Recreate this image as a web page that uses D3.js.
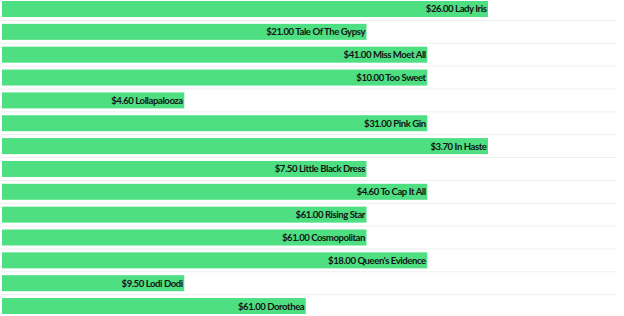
<!DOCTYPE html>
<html>
<head>
<meta charset="utf-8">
<script src="https://cdn.jsdelivr.net/npm/d3@7"></script>
<style>
  html, body { margin: 0; padding: 0; background: #ffffff; }
  svg { display: block; }
</style>
</head>
<body>
<div id="chart"></div>
<script>
const names = ["Lady Iris", "Tale Of The Gypsy", "Miss Moet All", "Too Sweet", "Lollapalooza",
  "Pink Gin", "In Haste", "Little Black Dress", "To Cap It All", "Rising Star",
  "Cosmopolitan", "Queen's Evidence", "Lodi Dodi", "Dorothea"];
const prices = [26.00, 21.00, 41.00, 10.00, 4.60, 31.00, 3.70, 7.50, 4.60, 61.00, 61.00, 18.00, 9.50, 61.00];
const scores = [8, 6, 7, 7, 3, 7, 8, 6, 7, 6, 6, 7, 3, 5];
const xDomain = [0, 10];

const W = 624, H = 316;
const svg = d3.select("#chart").append("svg").attr("width", W).attr("height", H);

const step = 22.85;
const y = d3.scaleBand().domain(names)
  .range([-2.425, -2.425 + names.length * step])
  .paddingInner(0.3).paddingOuter(0.15);
const x = d3.scaleLinear().domain(xDomain).range([2, 609.5]);

// faint row separators
svg.append("g").selectAll("line").data(names.slice(1)).join("line")
  .attr("x1", 0).attr("x2", 616)
  .attr("y1", d => y(d) - y.step() * y.paddingInner() / 2)
  .attr("y2", d => y(d) - y.step() * y.paddingInner() / 2)
  .attr("stroke", "#efefef").attr("stroke-width", 1);

const fmt = d3.format("$.2f");
const rows = names.map((n, i) => ({ name: n, price: prices[i], score: scores[i] }));

svg.append("g").selectAll("rect").data(rows).join("rect")
  .attr("x", x(0)).attr("y", d => y(d.name))
  .attr("width", d => x(d.score) - x(0))
  .attr("height", y.bandwidth())
  .attr("fill", "#4ddf82");

svg.append("g").selectAll("text").data(rows).join("text")
  .attr("x", d => x(d.score) - 1.5)
  .attr("y", d => y(d.name) + y.bandwidth() / 2)
  .attr("dy", "0.36em")
  .attr("text-anchor", "end")
  .attr("font-family", "Lato, 'Open Sans', sans-serif")
  .attr("font-weight", "bold")
  .attr("font-size", "9.6px")
  .attr("letter-spacing", "-0.45px")
  .attr("fill", "#141414")
  .text(d => fmt(d.price) + " " + d.name);
</script>
</body>
</html>
